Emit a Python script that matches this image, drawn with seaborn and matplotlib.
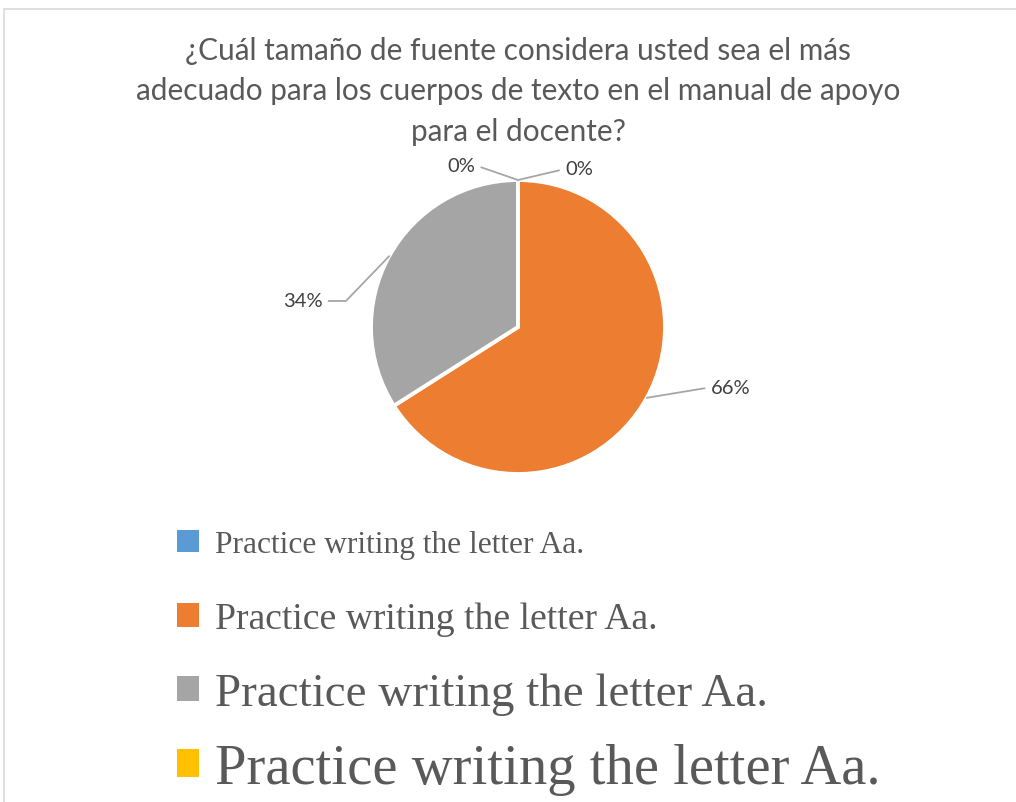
import numpy as np
import matplotlib
matplotlib.use("Agg")
import matplotlib.pyplot as plt
from matplotlib.patches import Rectangle
import seaborn as sns

# data
categories = ["Practice writing the letter Aa."] * 4
values = [0, 66, 34, 0]
colors = ["#5B9BD5", "#ED7D31", "#A5A5A5", "#FFC000"]
legend_sizes = [22.6, 27.1, 33.8, 40.8]
title = ("¿Cuál tamaño de fuente considera usted sea el más\n"
         "adecuado para los cuerpos de texto en el manual de apoyo\n"
         "para el docente?")

sns.set_theme(style="white")
plt.rcParams["font.family"] = ["Lato", "DejaVu Sans"]

W, H = 1016, 803
fig = plt.figure(figsize=(W / 100, H / 100), dpi=100)

# chart border
fig.patches.append(Rectangle((4 / W, -0.1), 1.2, 1 - 10 / H + 0.1,
                             transform=fig.transFigure, fill=False,
                             edgecolor="#d9d9d9", lw=1.2))

fig.text(518 / W, 1 - 37 / H, title, ha="center", va="top",
         fontsize=21.4, color="#595959", linespacing=1.54)

# pie axes: center (518, 328) px, radius 147 px
r = 147
ax = fig.add_axes([(518 - 300) / W, 1 - (328 + 200) / H, 600 / W, 400 / H])
wedges, _ = ax.pie(values, colors=sns.color_palette(colors), startangle=90,
                   counterclock=False, radius=1,
                   wedgeprops=dict(edgecolor="white", linewidth=2.8))
ax.set_xlim(-300 / r, 300 / r)
ax.set_ylim(-200 / r, 200 / r)
ax.set_aspect("equal")
ax.axis("off")

# data labels with leader lines
label_pos = [(0.32, 1.075, "left"), (1.31, -0.41, "left"),
             (-1.33, 0.177, "right"), (-0.29, 1.10, "right")]
for w, v, (tx, ty, ha) in zip(wedges, values, label_pos):
    mid = np.deg2rad((w.theta1 + w.theta2) / 2)
    px, py = np.cos(mid), np.sin(mid)
    rel = (0, 0.5) if ha == "left" else (1, 0.5)
    conn = "arc3"
    if ha == "right" and v > 0:
        conn = "angle,angleA=0,angleB=46"
    ax.annotate(f"{v}%", xy=(px, py), xytext=(tx, ty), ha=ha, va="center",
                fontsize=14.5, color="#404040",
                arrowprops=dict(arrowstyle="-", color="#a6a6a6", lw=1.3,
                                shrinkA=2, shrinkB=0, relpos=rel,
                                connectionstyle=conn))

# legend: one entry per row, each with its own font size
sq = 22  # square size in px
for i, (w, lab, s) in enumerate(zip(wedges, categories, legend_sizes)):
    fpx = s * 100 / 72
    yc = 545 + 75 * i
    leg = fig.legend([w], [lab], loc="center left",
                     bbox_to_anchor=(177 / W, 1 - yc / H), frameon=False,
                     prop={"family": "Liberation Serif", "size": s},
                     handlelength=sq / fpx, handleheight=sq / fpx,
                     handletextpad=16 / fpx, borderpad=0, borderaxespad=0)
    leg.get_texts()[0].set_color("#595959")
    leg.legend_handles[0].set_edgecolor("none")

fig.savefig("out.png", dpi=100)
